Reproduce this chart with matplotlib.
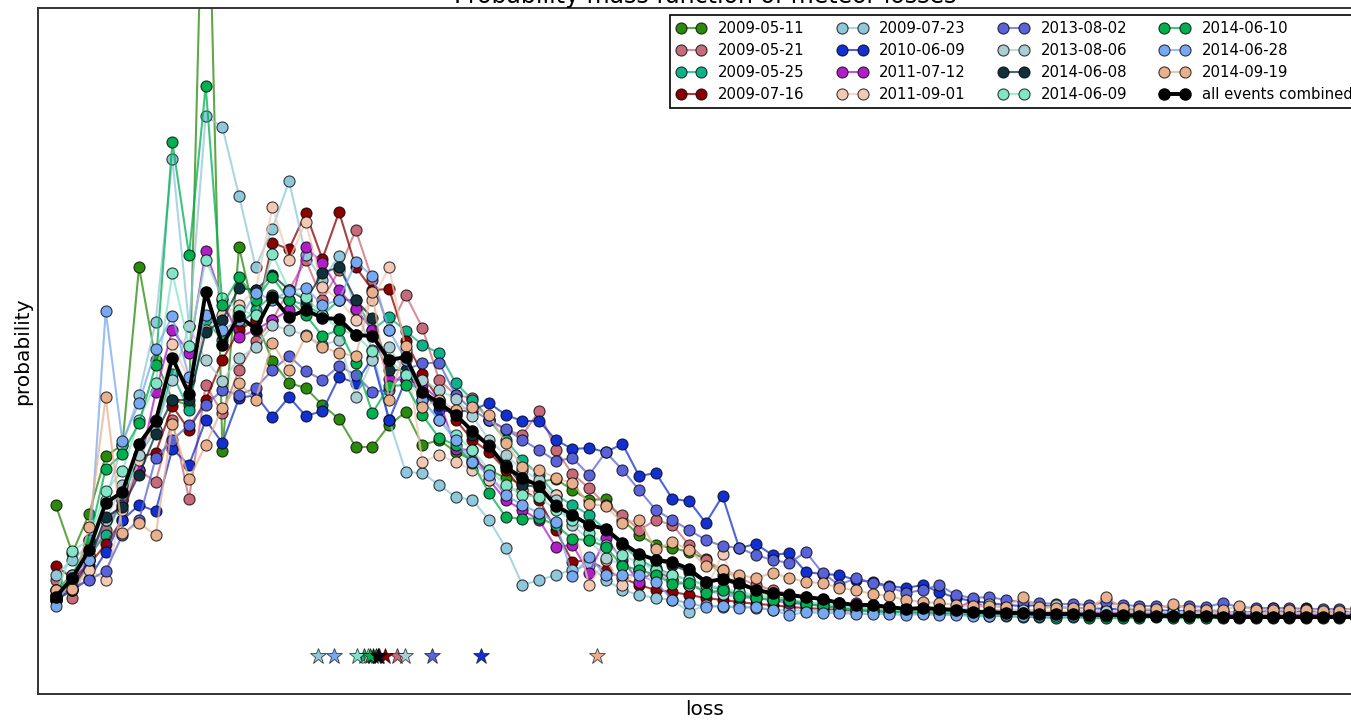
import numpy as np
import matplotlib
matplotlib.use("Agg")
import matplotlib.pyplot as plt
from matplotlib.colors import to_rgba

# ── données : probabilité (en %) par classe de perte ──────────────
events = ["2009-05-11", "2009-05-21", "2009-05-25", "2009-07-16",
          "2009-07-23", "2010-06-09", "2011-07-12", "2011-09-01",
          "2013-08-02", "2013-08-06", "2014-06-08", "2014-06-09",
          "2014-06-10", "2014-06-28", "2014-09-19"]

colors = ["#2b8a0c", "#c76b7a", "#0fb188", "#8b0000", "#8fc8db",
          "#1230d0", "#b01ec8", "#f2c9b5", "#5b63d8", "#a9ced3",
          "#11313a", "#82e6c6", "#00b050", "#78a8f0", "#e9b08e"]

pmf_20090511 = [1.15, 0.67, 1.06, 1.64, 1.75, 3.53, 2.60, 2.20, 2.15, 8.70,
                1.69, 3.73, 3.00, 2.59, 2.37, 2.32, 2.15, 2.01, 1.73, 1.73,
                1.95, 2.08, 1.75, 1.80, 1.68, 1.60, 1.50, 1.42, 1.36, 1.38,
                1.41, 1.30, 1.20, 1.21, 1.00, 0.85, 0.75, 0.72, 0.68, 0.61,
                0.45, 0.35, 0.30, 0.24, 0.20, 0.18, 0.16, 0.14, 0.13, 0.12,
                0.10, 0.09, 0.08, 0.08, 0.07, 0.07, 0.06, 0.06, 0.06, 0.05,
                0.06, 0.05, 0.05, 0.05, 0.04, 0.05, 0.04, 0.04, 0.04, 0.04,
                0.04, 0.03, 0.04, 0.03, 0.03, 0.03, 0.03, 0.03, 0.03, 0.03]
pmf_20090521 = [0.40, 0.22, 0.60, 0.90, 1.20, 1.50, 1.38, 2.00, 1.21, 2.35,
                2.07, 2.50, 2.79, 3.00, 3.30, 3.60, 3.20, 3.50, 3.90, 3.40,
                2.90, 3.25, 2.92, 2.40, 2.25, 2.22, 2.00, 1.90, 1.85, 2.09,
                1.70, 1.46, 1.32, 1.15, 1.05, 0.90, 1.00, 0.95, 0.75, 0.60,
                0.50, 0.42, 0.35, 0.30, 0.26, 0.23, 0.20, 0.17, 0.15, 0.13,
                0.12, 0.11, 0.10, 0.10, 0.09, 0.09, 0.08, 0.08, 0.08, 0.07,
                0.07, 0.07, 0.07, 0.06, 0.06, 0.06, 0.06, 0.06, 0.06, 0.05,
                0.05, 0.05, 0.05, 0.05, 0.05, 0.05, 0.05, 0.05, 0.05, 0.05]
pmf_20090525 = [0.30, 0.40, 0.65, 0.85, 1.20, 1.65, 1.90, 2.46, 2.10, 3.00,
                2.80, 2.95, 3.10, 3.25, 3.20, 3.15, 3.05, 3.20, 3.20, 2.90,
                3.03, 2.89, 2.75, 2.67, 2.37, 2.20, 2.00, 1.80, 1.60, 1.45,
                1.25, 1.15, 1.05, 0.90, 0.75, 0.60, 0.52, 0.45, 0.40, 0.35,
                0.30, 0.26, 0.23, 0.20, 0.18, 0.16, 0.14, 0.12, 0.11, 0.10,
                0.09, 0.08, 0.08, 0.07, 0.07, 0.06, 0.06, 0.06, 0.05, 0.05,
                0.05, 0.05, 0.04, 0.04, 0.04, 0.04, 0.04, 0.04, 0.04, 0.04,
                0.04, 0.03, 0.03, 0.03, 0.03, 0.03, 0.03, 0.03, 0.03, 0.03]
pmf_20090716 = [0.54, 0.42, 0.55, 0.76, 1.00, 1.63, 1.67, 2.14, 1.90, 2.20,
                2.60, 2.90, 3.00, 3.77, 3.71, 4.07, 3.61, 4.08, 3.53, 3.30,
                3.31, 2.79, 2.46, 2.20, 2.00, 1.80, 1.68, 1.50, 1.30, 1.20,
                0.90, 0.58, 0.60, 0.50, 0.42, 0.35, 0.30, 0.28, 0.25, 0.22,
                0.20, 0.18, 0.16, 0.15, 0.13, 0.12, 0.11, 0.10, 0.09, 0.09,
                0.08, 0.08, 0.07, 0.07, 0.07, 0.06, 0.06, 0.06, 0.06, 0.05,
                0.06, 0.05, 0.05, 0.05, 0.05, 0.05, 0.05, 0.05, 0.04, 0.04,
                0.04, 0.04, 0.04, 0.04, 0.04, 0.12, 0.04, 0.04, 0.04, 0.04]
pmf_20090723 = [0.45, 0.60, 0.75, 1.20, 1.75, 2.25, 2.98, 4.61, 2.94, 5.04,
                4.93, 4.24, 3.53, 3.91, 4.39, 3.65, 3.40, 3.64, 3.10, 2.70,
                2.00, 1.48, 1.47, 1.35, 1.23, 1.20, 1.00, 0.72, 0.35, 0.40,
                0.45, 0.50, 0.55, 0.40, 0.30, 0.25, 0.22, 0.20, 0.08, 0.15,
                0.13, 0.14, 0.12, 0.10, 0.10, 0.09, 0.10, 0.08, 0.08, 0.09,
                0.07, 0.08, 0.07, 0.07, 0.08, 0.06, 0.06, 0.07, 0.06, 0.05,
                0.07, 0.06, 0.05, 0.05, 0.06, 0.05, 0.05, 0.05, 0.04, 0.05,
                0.04, 0.05, 0.04, 0.04, 0.04, 0.04, 0.04, 0.04, 0.04, 0.04]
pmf_20100609 = [0.20, 0.30, 0.41, 0.68, 1.00, 1.15, 1.09, 1.71, 1.55, 2.00,
                1.77, 2.22, 2.25, 2.03, 2.23, 2.04, 2.09, 2.43, 2.37, 2.62,
                2.00, 2.40, 2.28, 2.10, 2.08, 2.10, 2.17, 2.05, 1.99, 1.99,
                1.80, 1.71, 1.72, 1.68, 1.76, 1.44, 1.47, 1.21, 1.19, 0.97,
                1.24, 0.72, 0.76, 0.65, 0.67, 0.48, 0.46, 0.45, 0.40, 0.38,
                0.34, 0.32, 0.35, 0.28, 0.22, 0.19, 0.17, 0.15, 0.14, 0.15,
                0.13, 0.12, 0.12, 0.11, 0.11, 0.10, 0.10, 0.09, 0.09, 0.09,
                0.08, 0.08, 0.08, 0.07, 0.07, 0.07, 0.07, 0.07, 0.06, 0.06]
pmf_20110712 = [0.25, 0.35, 0.60, 1.00, 1.15, 1.50, 2.28, 2.90, 2.67, 3.69,
                3.20, 2.83, 2.90, 3.00, 3.10, 3.73, 3.57, 3.30, 3.11, 2.90,
                2.41, 2.40, 2.35, 2.20, 1.71, 1.70, 1.40, 1.20, 1.10, 1.00,
                0.73, 0.75, 0.47, 0.82, 0.60, 0.38, 0.50, 0.40, 0.35, 0.30,
                0.26, 0.23, 0.22, 0.20, 0.17, 0.16, 0.15, 0.14, 0.17, 0.13,
                0.12, 0.11, 0.11, 0.11, 0.10, 0.20, 0.10, 0.09, 0.09, 0.08,
                0.08, 0.08, 0.08, 0.07, 0.07, 0.07, 0.07, 0.07, 0.07, 0.07,
                0.06, 0.06, 0.06, 0.12, 0.06, 0.06, 0.06, 0.10, 0.06, 0.06]
pmf_20110901 = [0.20, 0.30, 0.50, 0.40, 1.10, 1.60, 2.00, 2.76, 2.40, 2.90,
                3.05, 3.15, 3.30, 4.13, 3.60, 3.98, 3.33, 3.20, 3.00, 3.20,
                3.53, 2.70, 1.58, 1.65, 1.58, 1.50, 1.40, 1.32, 1.30, 1.28,
                1.25, 1.00, 0.35, 0.60, 0.35, 0.50, 0.45, 0.40, 0.35, 0.30,
                0.66, 0.28, 0.24, 0.22, 0.20, 0.18, 0.16, 0.15, 0.14, 0.13,
                0.12, 0.12, 0.11, 0.11, 0.10, 0.10, 0.10, 0.09, 0.09, 0.09,
                0.09, 0.08, 0.08, 0.20, 0.08, 0.08, 0.08, 0.08, 0.07, 0.07,
                0.07, 0.07, 0.07, 0.07, 0.07, 0.07, 0.07, 0.07, 0.07, 0.07]
pmf_20130802 = [0.22, 0.32, 0.40, 0.49, 0.85, 1.00, 1.62, 1.80, 1.95, 2.15,
                2.30, 2.25, 2.32, 2.50, 2.64, 2.49, 2.40, 2.54, 2.45, 2.28,
                2.30, 2.50, 2.57, 2.57, 2.25, 2.10, 2.00, 1.91, 1.80, 1.70,
                1.59, 1.62, 1.45, 1.68, 1.50, 1.30, 1.10, 1.00, 0.90, 0.80,
                0.74, 0.72, 0.65, 0.60, 0.57, 0.68, 0.47, 0.35, 0.42, 0.37,
                0.33, 0.27, 0.30, 0.35, 0.25, 0.22, 0.23, 0.20, 0.18, 0.17,
                0.16, 0.16, 0.15, 0.18, 0.15, 0.14, 0.14, 0.13, 0.14, 0.13,
                0.17, 0.13, 0.12, 0.12, 0.12, 0.11, 0.11, 0.11, 0.11, 0.10]
pmf_20130806 = [0.20, 0.40, 0.65, 1.00, 1.35, 1.65, 1.90, 2.40, 2.94, 2.60,
                2.39, 2.62, 2.73, 2.95, 2.90, 2.85, 2.75, 2.80, 2.23, 2.60,
                2.73, 2.47, 2.40, 2.30, 2.21, 2.04, 1.80, 1.65, 1.50, 1.40,
                1.20, 0.95, 0.80, 0.62, 0.55, 0.50, 0.45, 0.40, 0.35, 0.30,
                0.26, 0.23, 0.22, 0.20, 0.19, 0.17, 0.16, 0.15, 0.14, 0.13,
                0.13, 0.12, 0.12, 0.11, 0.12, 0.11, 0.16, 0.11, 0.10, 0.10,
                0.15, 0.10, 0.09, 0.09, 0.09, 0.09, 0.08, 0.08, 0.08, 0.08,
                0.08, 0.08, 0.07, 0.07, 0.07, 0.07, 0.07, 0.07, 0.07, 0.07]
pmf_20140608 = [0.20, 0.30, 0.60, 1.03, 1.13, 1.45, 1.86, 2.20, 2.20, 2.88,
                3.00, 3.32, 3.30, 3.45, 3.30, 3.20, 3.47, 3.53, 3.20, 3.02,
                2.50, 2.50, 2.25, 2.15, 2.08, 1.85, 1.75, 1.55, 1.35, 1.33,
                1.15, 1.05, 0.95, 0.90, 0.75, 0.65, 0.60, 0.55, 0.48, 0.38,
                0.40, 0.35, 0.30, 0.27, 0.24, 0.22, 0.20, 0.17, 0.15, 0.15,
                0.13, 0.11, 0.12, 0.11, 0.10, 0.08, 0.08, 0.07, 0.07, 0.06,
                0.06, 0.06, 0.05, 0.05, 0.05, 0.04, 0.04, 0.04, 0.04, 0.04,
                0.04, 0.04, 0.04, 0.04, 0.04, 0.04, 0.04, 0.04, 0.04, 0.04]
pmf_20140609 = [0.25, 0.69, 0.80, 1.29, 1.49, 2.00, 2.37, 3.47, 2.74, 3.60,
                3.22, 3.10, 3.05, 3.66, 3.30, 3.23, 3.05, 2.91, 2.85, 2.69,
                2.60, 2.45, 2.20, 2.00, 1.85, 1.70, 1.50, 1.35, 1.25, 1.23,
                1.10, 1.00, 0.87, 0.75, 0.65, 0.57, 0.50, 0.45, 0.40, 0.35,
                0.32, 0.28, 0.25, 0.23, 0.20, 0.18, 0.16, 0.14, 0.12, 0.11,
                0.10, 0.09, 0.08, 0.07, 0.07, 0.06, 0.06, 0.06, 0.05, 0.05,
                0.05, 0.05, 0.04, 0.04, 0.04, 0.04, 0.04, 0.04, 0.04, 0.04,
                0.04, 0.04, 0.04, 0.04, 0.04, 0.04, 0.04, 0.04, 0.04, 0.04]
pmf_20140610 = [0.30, 0.45, 0.80, 1.51, 1.66, 1.97, 2.55, 4.78, 3.65, 5.34,
                3.15, 3.43, 3.20, 3.43, 3.20, 3.05, 2.84, 2.90, 2.57, 2.07,
                2.34, 2.35, 2.05, 1.82, 1.75, 1.57, 1.27, 1.03, 1.01, 1.02,
                0.95, 0.81, 0.80, 0.73, 0.54, 0.50, 0.45, 0.36, 0.37, 0.27,
                0.30, 0.24, 0.22, 0.20, 0.20, 0.16, 0.14, 0.12, 0.10, 0.09,
                0.08, 0.08, 0.07, 0.07, 0.06, 0.05, 0.04, 0.04, 0.03, 0.03,
                0.02, 0.03, 0.02, 0.02, 0.02, 0.02, 0.03, 0.02, 0.02, 0.02,
                0.02, 0.02, 0.02, 0.02, 0.02, 0.02, 0.02, 0.02, 0.02, 0.02]
pmf_20140628 = [0.14, 0.45, 0.60, 3.09, 1.79, 2.17, 2.71, 3.04, 2.43, 3.05,
                2.90, 3.00, 3.27, 3.20, 3.29, 3.32, 3.15, 3.20, 3.58, 3.44,
                2.90, 2.60, 2.20, 2.00, 1.80, 1.58, 1.45, 1.25, 1.15, 1.07,
                0.98, 0.44, 0.63, 0.45, 0.45, 0.45, 0.38, 0.20, 0.17, 0.13,
                0.14, 0.12, 0.13, 0.10, 0.05, 0.08, 0.07, 0.07, 0.06, 0.06,
                0.06, 0.05, 0.06, 0.05, 0.05, 0.04, 0.04, 0.05, 0.04, 0.04,
                0.04, 0.04, 0.04, 0.04, 0.04, 0.04, 0.04, 0.04, 0.04, 0.04,
                0.04, 0.04, 0.04, 0.04, 0.04, 0.04, 0.04, 0.04, 0.04, 0.04]
pmf_20140919 = [0.30, 0.31, 0.93, 2.23, 0.87, 0.97, 0.85, 1.96, 1.41, 1.75,
                2.12, 2.37, 2.20, 2.77, 2.50, 2.84, 2.73, 2.67, 2.64, 3.28,
                2.20, 2.74, 2.13, 2.20, 2.10, 2.13, 2.05, 1.77, 1.53, 1.50,
                1.42, 1.37, 1.16, 1.14, 0.97, 1.00, 0.71, 0.78, 0.70, 0.54,
                0.50, 0.45, 0.42, 0.47, 0.42, 0.38, 0.37, 0.32, 0.30, 0.26,
                0.24, 0.20, 0.18, 0.17, 0.15, 0.14, 0.14, 0.13, 0.23, 0.13,
                0.12, 0.12, 0.12, 0.23, 0.12, 0.11, 0.11, 0.16, 0.11, 0.10,
                0.10, 0.14, 0.10, 0.10, 0.10, 0.10, 0.09, 0.09, 0.12, 0.09]
pmf_all = [0.23, 0.42, 0.70, 1.17, 1.28, 1.76, 1.99, 2.62, 2.26, 3.28,
           2.75, 3.04, 2.91, 3.23, 3.03, 3.10, 3.02, 3.01, 2.85, 2.84,
           2.60, 2.63, 2.28, 2.17, 2.05, 1.89, 1.74, 1.53, 1.42, 1.34,
           1.14, 1.05, 0.95, 0.91, 0.77, 0.66, 0.60, 0.58, 0.51, 0.38,
           0.41, 0.37, 0.30, 0.27, 0.25, 0.23, 0.21, 0.17, 0.15, 0.15,
           0.13, 0.11, 0.12, 0.11, 0.10, 0.08, 0.08, 0.07, 0.07, 0.06,
           0.06, 0.06, 0.05, 0.05, 0.05, 0.04, 0.04, 0.04, 0.04, 0.04,
           0.03, 0.03, 0.03, 0.03, 0.03, 0.03, 0.03, 0.03, 0.03, 0.03]

pmfs = [pmf_20090511, pmf_20090521, pmf_20090525, pmf_20090716,
        pmf_20090723, pmf_20100609, pmf_20110712, pmf_20110901,
        pmf_20130802, pmf_20130806, pmf_20140608, pmf_20140609,
        pmf_20140610, pmf_20140628, pmf_20140919]

# perte moyenne de chaque événement (étoiles), en classes de perte
mean_loss = [19.2, 20.5, 18.5, 19.75, 15.73, 25.5, 19.4, 18.73,
             22.57, 20.95, 19.03, 18.07, 18.85, 16.7, 32.5]
mean_loss_all = 19.35
star_level = -0.36   # en %

# ── graphique ───────────────────────────────────────────────
fig = plt.figure(figsize=(13.51, 7.21), dpi=100)
ax = fig.add_axes([38 / 1351, 27 / 721, 1334 / 1351, 686 / 721])

for name, col, vals in zip(events, colors, pmfs):
    x = np.arange(len(vals))
    ax.plot(x, np.array(vals) / 100, "-o", color=to_rgba(col, 0.75), lw=1.5,
            ms=8, mfc=col, mec=(0, 0, 0, 0.75), mew=0.8, label=name)

x = np.arange(len(pmf_all))
ax.plot(x, np.array(pmf_all) / 100, "-o", color="k", lw=2.8, ms=8, mfc="k",
        mec="k", label="all events combined")

for col, m in zip(colors, mean_loss):
    ax.plot([m], [star_level / 100], "*", ms=12, mfc=col, mec=(0, 0, 0, 0.7), mew=0.6)
ax.plot([mean_loss_all], [star_level / 100], "*", ms=12, mfc="k", mec="k", mew=0.6)

ax.set_xlim(-1.06, 78.96)
ax.set_ylim(-0.0074, 0.0612)
ax.set_xticks([])
ax.set_yticks([])
for s in ax.spines.values():
    s.set_linewidth(1.4)
    s.set_color("#333333")

ax.set_xlabel("loss", fontsize=14.5)
ax.set_ylabel("probability", fontsize=14.5)
ax.set_title("Probability mass function of meteor losses", fontsize=17, pad=-1)

leg = ax.legend(loc="upper left", bbox_to_anchor=(0.4738, 0.9898), ncol=4,
                fontsize=10.75, numpoints=2, fancybox=False, framealpha=1,
                edgecolor="k", borderaxespad=0, handlelength=2.0,
                labelspacing=0.47, columnspacing=2.2)
leg.get_frame().set_linewidth(1.2)

fig.savefig("out.png", dpi=100)
